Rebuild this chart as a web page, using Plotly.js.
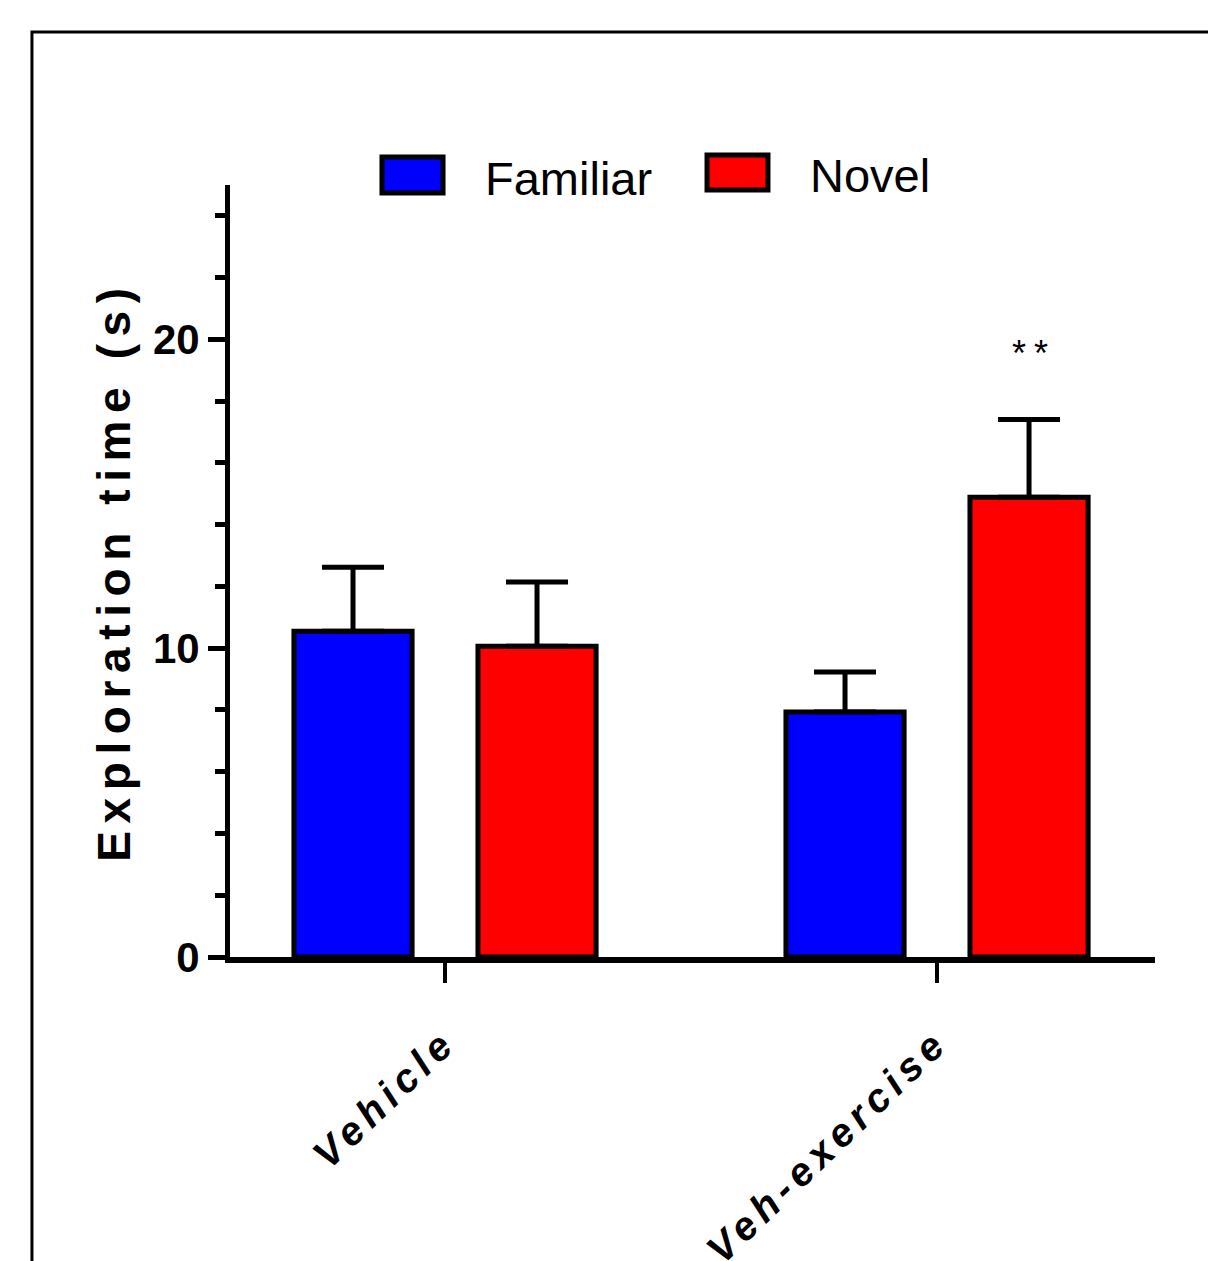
<!DOCTYPE html>
<html>
<head>
<meta charset="utf-8">
<script src="https://cdn.plot.ly/plotly-3.0.1.min.js"></script>
<style>
  html, body { margin: 0; padding: 0; background: #fff; }
  #chart { width: 1208px; height: 1261px; }
  .ytitle { letter-spacing: 7.6px; }
  .xtick text { letter-spacing: 6px; }
  .annotation[data-index="0"] text { letter-spacing: 8px; }
</style>
</head>
<body>
<div id="chart"></div>
<script>
const categories = ["Vehicle", "Veh-exercise"];
const seriesNames = ["Familiar", "Novel"];
const familiarMean = [10.55, 7.93];
const familiarSEM = [2.07, 1.3];
const novelMean = [10.06, 14.89];
const novelSEM = [2.08, 2.52];
const yTickVals = [0, 10, 20];
const yTickText = ["0", "10", "20"];
const significance = "**";

const FONT = "Liberation Sans, Arial, sans-serif";
const colors = ["#0000FF", "#FF0000"];

function barTrace(name, means, sems, color) {
  return {
    type: "bar",
    name: name,
    x: categories,
    y: means,
    marker: { color: color, line: { color: "#000", width: 5 } },
    error_y: {
      type: "data", symmetric: false, array: sems, arrayminus: sems.map(() => 0),
      color: "#000", thickness: 5, width: 31
    },
    showlegend: false,
    hoverinfo: "x+y"
  };
}

const data = [
  barTrace(seriesNames[0], familiarMean, familiarSEM, colors[0]),
  barTrace(seriesNames[1], novelMean, novelSEM, colors[1])
];

const layout = {
  width: 1208, height: 1261,
  margin: { l: 230, r: 53, t: 185, b: 304, pad: 0 },
  paper_bgcolor: "#fff", plot_bgcolor: "#fff",
  barmode: "group", bargap: 0.252, bargroupgap: 0.358,
  font: { family: FONT, color: "#000" },
  xaxis: {
    type: "category",
    range: [-0.437, 1.443],
    showline: true, linecolor: "#000", linewidth: 6,
    ticks: "outside", ticklen: 20, tickwidth: 4, tickcolor: "#000",
    tickangle: -44,
    tickfont: { family: FONT, size: 40, weight: "bold", style: "italic", color: "#000" },
    ticklabelstandoff: 20,
    showgrid: false, zeroline: false, fixedrange: true
  },
  yaxis: {
    range: [0, 25],
    tickvals: yTickVals, ticktext: yTickText,
    showline: true, linecolor: "#000", linewidth: 5,
    ticks: "outside", ticklen: 17, tickwidth: 5, tickcolor: "#000",
    minor: { dtick: 2, tick0: 0, ticks: "outside", ticklen: 10, tickwidth: 5, tickcolor: "#000", showgrid: false },
    tickfont: { family: FONT, size: 42, weight: "bold", color: "#000" },
    ticklabelstandoff: 0,
    title: { text: "Exploration time (s)", font: { family: FONT, size: 46, weight: "bold", color: "#000" }, standoff: 9 },
    showgrid: false, zeroline: false, fixedrange: true
  },
  shapes: [
    { type: "rect", xref: "paper", yref: "paper", x0: -0.2141, x1: 1.2, y0: -0.6, y1: 1.1982,
      line: { color: "#000", width: 3 }, fillcolor: "rgba(0,0,0,0)", layer: "below" },
    { type: "rect", xref: "paper", yref: "paper", x0: 0.1643, x1: 0.2303, y0: 0.9896, y1: 1.0363,
      line: { color: "#000", width: 5 }, fillcolor: colors[0] },
    { type: "rect", xref: "paper", yref: "paper", x0: 0.5157, x1: 0.5816, y0: 0.9935, y1: 1.0389,
      line: { color: "#000", width: 5 }, fillcolor: colors[1] }
  ],
  annotations: [
    { text: significance, xref: "x", yref: "y", x: 1.187, y: 19.55, showarrow: false, xshift: 5,
      xanchor: "center", yanchor: "middle", font: { family: FONT, size: 36, color: "#000" } },
    { text: seriesNames[0], xref: "paper", yref: "paper", x: 0.2735, y: 1.009, showarrow: false,
      xanchor: "left", yanchor: "middle", font: { family: FONT, size: 47, color: "#000" } },
    { text: seriesNames[1], xref: "paper", yref: "paper", x: 0.6249, y: 1.0117, showarrow: false,
      xanchor: "left", yanchor: "middle", font: { family: FONT, size: 47, color: "#000" } }
  ]
};

Plotly.newPlot("chart", data, layout, { displayModeBar: false, staticPlot: true });
</script>
</body>
</html>
